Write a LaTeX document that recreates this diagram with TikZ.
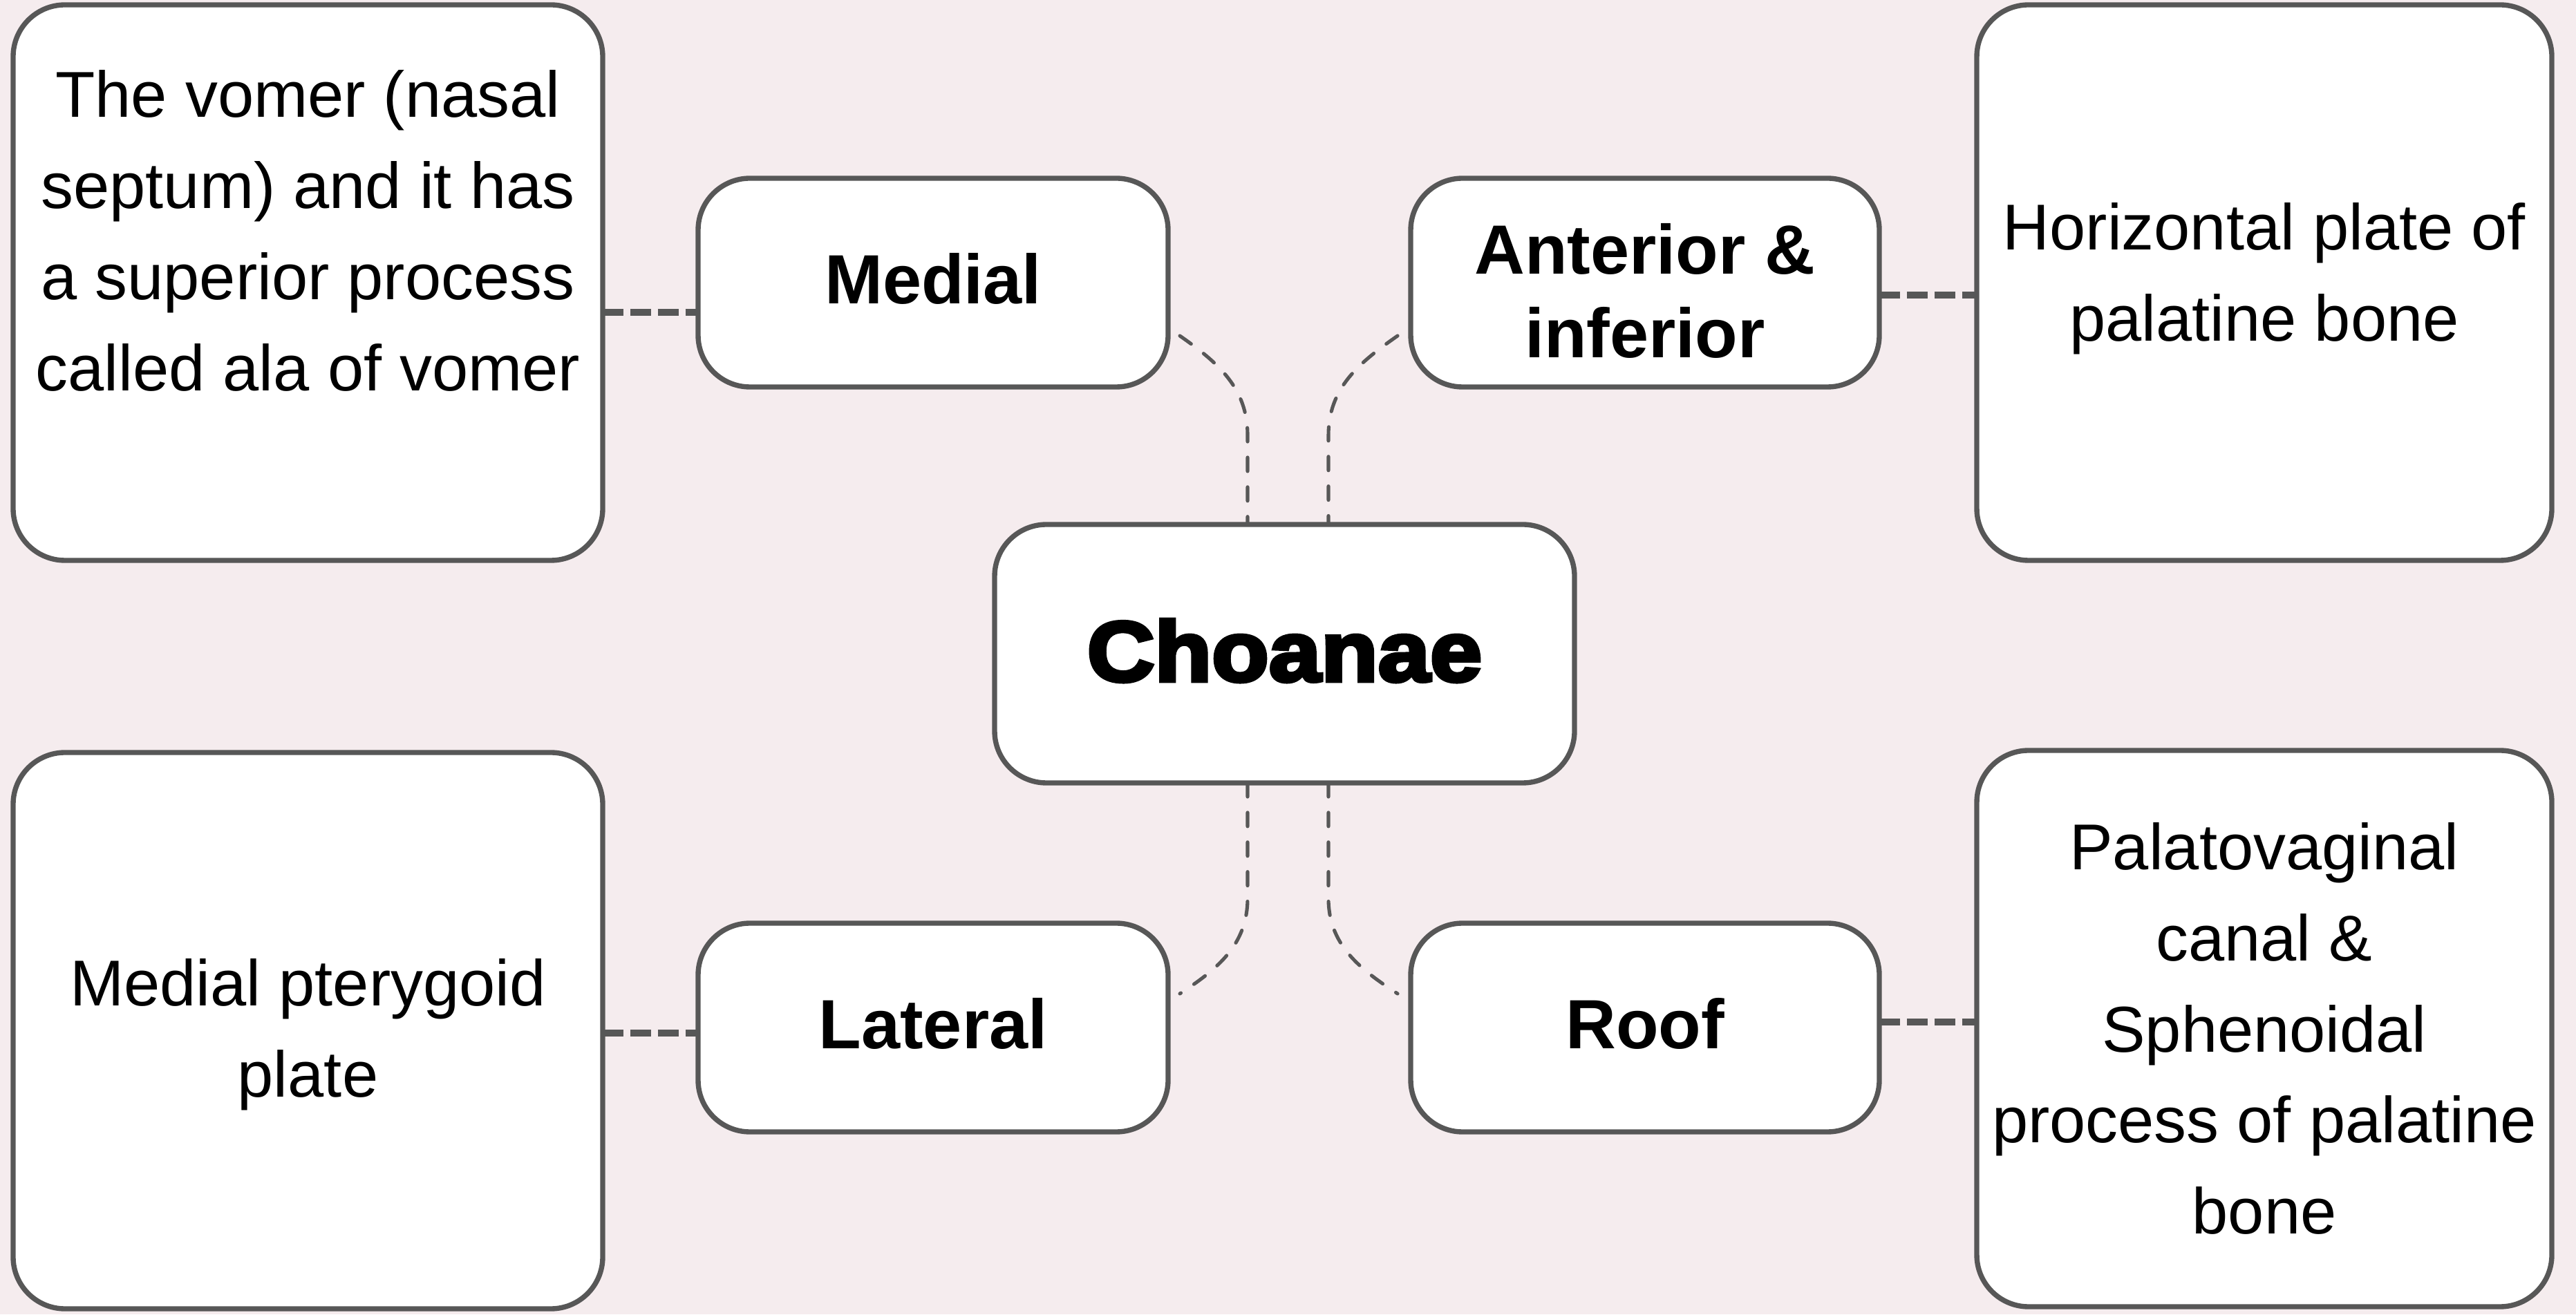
\documentclass[tikz,border=0pt]{standalone}
\usepackage{fontspec}
\setmainfont{Liberation Sans}
\newfontfamily\choafont[FakeStretch=1.1,FakeBold=4.5]{Liberation Sans Bold}
\definecolor{edge}{HTML}{575757}
\definecolor{bgc}{HTML}{F5ECEE}
\begin{document}
\begin{tikzpicture}[x=1cm,y=1cm,
  box/.style={draw=edge, line width=2.1pt, fill=white, rounded corners=0.75cm, inner sep=0pt, outer sep=0pt, align=center},
  descbox/.style={box, font=\fontsize{26.7pt}{37.5pt}\selectfont},
  desctext/.style={inner sep=0pt, align=center, font=\fontsize{26.7pt}{37.5pt}\selectfont},
  labbox/.style={box, minimum height=3.02cm, text depth=0.12cm, font=\bfseries\fontsize{28.7pt}{34.4pt}\selectfont},
  thindash/.style={draw=edge, line width=1.45pt, line cap=round, dash pattern=on 5.7pt off 6.5pt},
  thickdash/.style={draw=edge, line width=3pt, dash pattern=on 8.5pt off 2.85pt}]
\useasboundingbox (0,0) rectangle (37.27,19.02);
\fill[bgc] (0,0) rectangle (37.27,19.02);

% outer description boxes
\node[descbox, minimum width=8.53cm, minimum height=8.04cm] (vomer) at (4.455,14.93) {};
\node[desctext] (vomertxt) at (4.455,15.68) {The vomer (nasal\\septum) and it has\\a superior process\\called ala of vomer};
\node[descbox, minimum width=8.53cm, minimum height=8.05cm] (ptery) at (4.455,4.105) {};
\node[desctext] (pterytxt) at (4.455,4.05) {Medial pterygoid\\plate};
\node[descbox, minimum width=8.32cm, minimum height=8.04cm] (horiz) at (32.76,14.93) {};
\node[desctext] (horiztxt) at (32.76,14.99) {Horizontal plate of\\palatine bone};
\node[descbox, minimum width=8.32cm, minimum height=8.05cm] (palato) at (32.76,4.135) {Palatovaginal\\canal \&\\Sphenoidal\\process of palatine\\bone};

% label boxes
\node[labbox, minimum width=6.80cm] (medial) at (13.50,14.93) {Medial};
\node[labbox, minimum width=6.78cm] (antinf) at (23.80,14.93) {};
\node[inner sep=0pt, align=center, font=\bfseries\fontsize{28.7pt}{34.4pt}\selectfont] (antinftxt) at (23.80,14.81) {Anterior \&\\inferior};
\node[labbox, minimum width=6.80cm] (lateral) at (13.50,4.15) {Lateral};
\node[labbox, minimum width=6.78cm] (roof) at (23.80,4.15) {Roof};

% centre
\node[box, minimum width=8.39cm, minimum height=3.74cm, text depth=0.1cm, font=\choafont\fontsize{35pt}{40pt}\selectfont] (choanae) at (18.585,9.56) {Choanae};

% thick dashed connectors
\path ([yshift=-0.43cm]medial.west) coordinate (h1);
\draw[thickdash] (h1 -| vomer.east) -- (h1);
\path ([yshift=-0.08cm]lateral.west) coordinate (h2);
\draw[thickdash] (h2 -| ptery.east) -- (h2);
\path ([yshift=-0.18cm]antinf.east) coordinate (h3);
\draw[thickdash] (h3) -- (h3 -| horiz.west);
\path ([yshift=0.08cm]roof.east) coordinate (h4);
\draw[thickdash] (h4) -- (h4 -| palato.west);

% thin curved connectors
\coordinate (c1) at ([xshift=0.17cm,yshift=-0.77cm]medial.east);
\coordinate (c1e) at ([xshift=-0.535cm]choanae.north);
\draw[thindash] (c1) to[out=-35,in=90] ([yshift=1.29cm]c1e) -- (c1e);

\coordinate (c2) at ([xshift=-0.19cm,yshift=-0.77cm]antinf.west);
\coordinate (c2e) at ([xshift=0.635cm]choanae.north);
\draw[thindash] (c2) to[out=-145,in=90] ([yshift=1.29cm]c2e) -- (c2e);

\coordinate (c3) at ([xshift=-0.535cm]choanae.south);
\coordinate (c3e) at ([xshift=0.17cm,yshift=0.49cm]lateral.east);
\draw[thindash] (c3) -- ([yshift=-1.67cm]c3) to[out=-90,in=33] (c3e);

\coordinate (c4) at ([xshift=0.635cm]choanae.south);
\coordinate (c4e) at ([xshift=-0.19cm,yshift=0.49cm]roof.west);
\draw[thindash] (c4) -- ([yshift=-1.67cm]c4) to[out=-90,in=147] (c4e);
\end{tikzpicture}
\end{document}
